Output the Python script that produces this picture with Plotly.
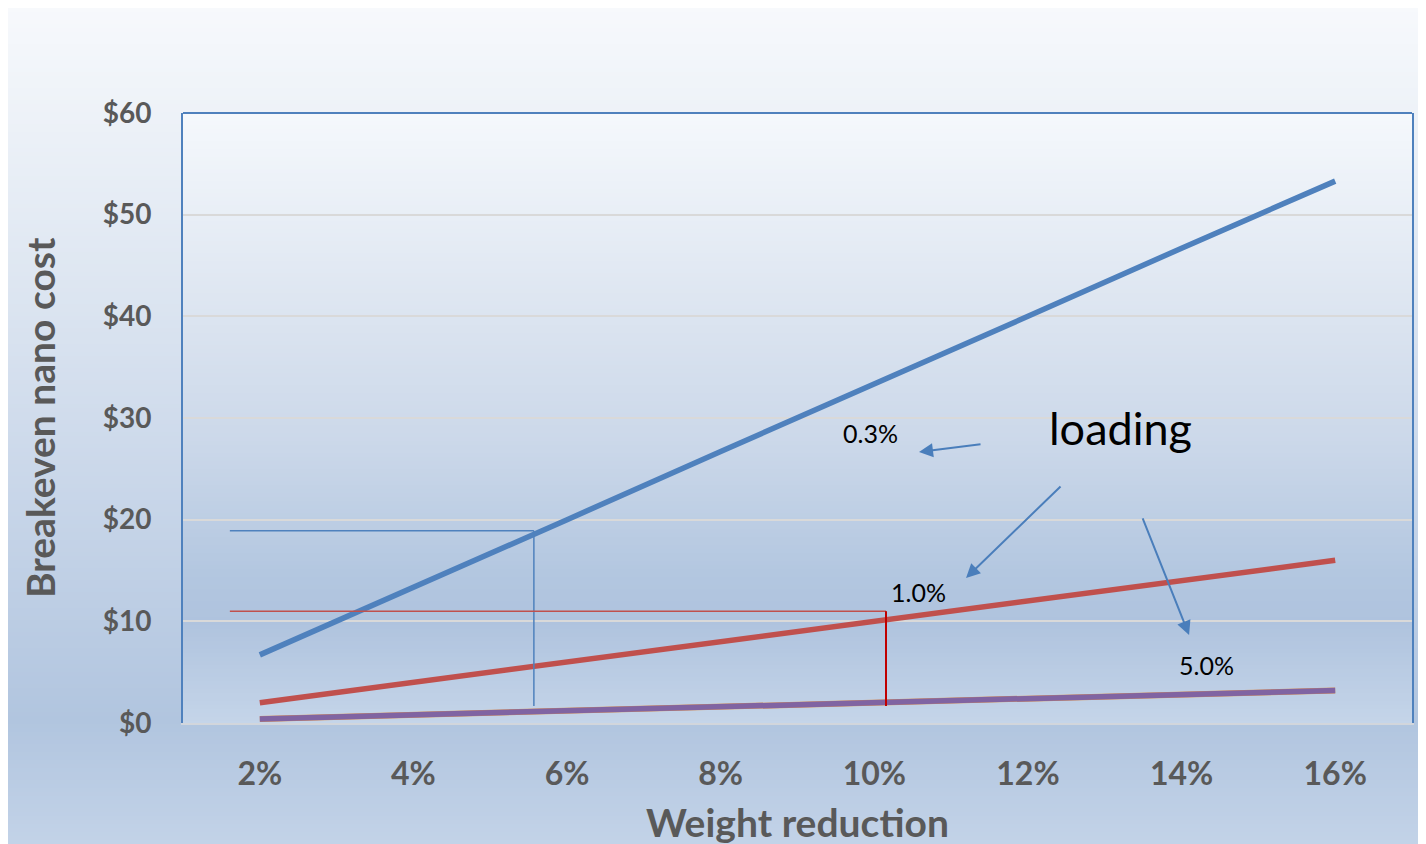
import plotly.graph_objects as go

# ---------------- data ----------------
weight_labels = ["2%", "4%", "6%", "8%", "10%", "12%", "14%", "16%"]
loading_03 = [6.7, 13.3, 20.0, 26.7, 33.3, 40.0, 46.7, 53.3]
loading_10 = [2.0, 4.0, 6.0, 8.0, 10.0, 12.0, 14.0, 16.0]
loading_50 = [0.4, 0.8, 1.2, 1.6, 2.0, 2.4, 2.8, 3.2]
loading_50b = [0.4, 0.8, 1.2, 1.6, 2.0, 2.4, 2.8, 3.2]
y_ticks = [0, 10, 20, 30, 40, 50, 60]
y_tick_labels = ["$0", "$10", "$20", "$30", "$40", "$50", "$60"]

# reference guide lines (category-index x, value y)
blue_ref = dict(x0=-0.195, x1=1.784, y=18.9, ybot=1.67)
red_ref = dict(x0=-0.195, x1=4.076, y=11.0, ybot=1.67)

FONT = "Lato, 'Open Sans', sans-serif"
GREY = "#595959"

xs = list(range(len(weight_labels)))

fig = go.Figure()
fig.add_trace(go.Scatter(x=xs, y=loading_50b, mode="lines",
                         line=dict(color="#E0914A", width=6), hoverinfo="skip"))
fig.add_trace(go.Scatter(x=xs, y=loading_50, mode="lines",
                         line=dict(color="#8064A2", width=5.5), name="5.0%"))
fig.add_trace(go.Scatter(x=xs, y=loading_10, mode="lines",
                         line=dict(color="#C0504D", width=5.5), name="1.0%"))
fig.add_trace(go.Scatter(x=xs, y=loading_03, mode="lines",
                         line=dict(color="#4F81BD", width=5.5), name="0.3%"))

# ---------------- geometry (screen pixels; page has an 8px body margin) ----------------
OFF = 8
W, H = 1426 - OFF, 844 - OFF
L, R, T, B = 183, 1412, 113, 723          # plot area in screen px
pw, ph = R - L, B - T


def hex2rgb(h):
    h = h.lstrip("#")
    return [int(h[i:i + 2], 16) for i in (0, 2, 4)]


def interp(stops, f):
    for (f0, c0), (f1, c1) in zip(stops, stops[1:]):
        if f0 <= f <= f1:
            t = (f - f0) / (f1 - f0) if f1 > f0 else 0
            a, b = hex2rgb(c0), hex2rgb(c1)
            return "rgb(%d,%d,%d)" % tuple(round(a[i] + (b[i] - a[i]) * t) for i in range(3))
    return stops[-1][1]


def px2px(x):
    return (x - L) / pw


def py2py(y):
    return (B - y) / ph


outer_stops = [(0, "#F7F9FC"), (0.25, "#E4EBF4"), (0.55, "#CBD8EA"),
               (0.85, "#B1C5DF"), (1.0, "#C3D3E8")]
inner_stops = [(0, "#F5F8FC"), (0.3, "#DEE6F1"), (0.55, "#CAD7E9"),
               (0.75, "#B3C7E0"), (0.83, "#AFC3DE"), (1.0, "#C5D5E9")]

shapes = []
step = 4
y = 4
while y < 844:
    y2 = min(y + step + 1, 844)
    f = (y - 4) / (844 - 4)
    shapes.append(dict(type="rect", xref="paper", yref="paper", layer="below",
                       x0=px2px(0), x1=px2px(1430), y0=py2py(y2), y1=py2py(y),
                       fillcolor=interp(outer_stops, f), line=dict(width=0)))
    y += step
y = T
while y < B:
    y2 = min(y + step + 1, B)
    f = (y - T) / (B - T)
    shapes.append(dict(type="rect", xref="paper", yref="paper", layer="below",
                       x0=0, x1=1, y0=py2py(y2), y1=py2py(y),
                       fillcolor=interp(inner_stops, f), line=dict(width=0)))
    y += step

# top border of plot area
shapes.append(dict(type="line", xref="paper", yref="paper", x0=0, x1=1, y0=1, y1=1,
                   line=dict(color="#4F81BD", width=2)))

# reference guide lines
shapes += [
    dict(type="line", xref="x", yref="y", x0=blue_ref["x0"], x1=blue_ref["x1"],
         y0=blue_ref["y"], y1=blue_ref["y"], line=dict(color="#4F81BD", width=1.5)),
    dict(type="line", xref="x", yref="y", x0=blue_ref["x1"], x1=blue_ref["x1"],
         y0=blue_ref["y"], y1=blue_ref["ybot"], line=dict(color="#4F81BD", width=1.5)),
    dict(type="line", xref="x", yref="y", x0=red_ref["x0"], x1=red_ref["x1"],
         y0=red_ref["y"], y1=red_ref["y"], line=dict(color="#C0504D", width=1.5)),
    dict(type="line", xref="x", yref="y", x0=red_ref["x1"], x1=red_ref["x1"],
         y0=red_ref["y"], y1=red_ref["ybot"], line=dict(color="#C00000", width=2)),
]

arrow_col = "#4A7EBB"
annotations = [
    dict(x=3.972, y=28.5, text="0.3%", showarrow=False,
         font=dict(size=25, color="black", family=FONT)),
    dict(x=5.60, y=29.0, text="loading", showarrow=False,
         font=dict(size=45, color="black", family=FONT)),
    dict(x=4.285, y=12.9, text="1.0%", showarrow=False,
         font=dict(size=25, color="black", family=FONT)),
    dict(x=6.16, y=5.7, text="5.0%", showarrow=False,
         font=dict(size=25, color="black", family=FONT)),
    dict(x=4.291, y=26.65, ax=63, ay=-8, text="", showarrow=True,
         arrowhead=2, arrowsize=1.4, arrowwidth=2, arrowcolor=arrow_col),
    dict(x=4.597, y=14.26, ax=96, ay=-93, text="", showarrow=True,
         arrowhead=2, arrowsize=1.4, arrowwidth=2, arrowcolor=arrow_col),
    dict(x=6.049, y=8.66, ax=-47, ay=-118, text="", showarrow=True,
         arrowhead=2, arrowsize=1.4, arrowwidth=2, arrowcolor=arrow_col),
    dict(xref="paper", yref="paper", x=0.5, y=py2py(822), xanchor="center",
         yanchor="middle", text="Weight reduction", showarrow=False,
         font=dict(size=39, color=GREY, family=FONT, weight="bold")),
    dict(xref="paper", yref="paper", x=px2px(40), y=0.5, xanchor="center",
         yanchor="middle", text="Breakeven nano cost", textangle=-90, showarrow=False,
         font=dict(size=39, color=GREY, family=FONT, weight="bold")),
]

fig.update_layout(
    width=W, height=H,
    margin=dict(l=L - OFF, r=W - (R - OFF), t=T - OFF, b=H - (B - OFF)),
    paper_bgcolor="white",
    plot_bgcolor="rgba(0,0,0,0)",
    showlegend=False,
    shapes=shapes,
    annotations=annotations,
    font=dict(family=FONT, color=GREY),
    xaxis=dict(range=[-0.5, 7.5], tickvals=xs, ticktext=weight_labels,
               showgrid=False, zeroline=False, showline=True,
               linecolor="#D2D6DC", linewidth=2, ticks="",
               tickfont=dict(size=32, color=GREY, family=FONT, weight="bold"),
               ticklabelstandoff=22),
    yaxis=dict(range=[0, 60], tickvals=y_ticks, ticktext=y_tick_labels,
               showgrid=True, gridcolor="#D9D9D9", gridwidth=1.5,
               zeroline=False, showline=True, mirror=True,
               linecolor="#4F81BD", linewidth=2, ticks="",
               tickfont=dict(size=28, color=GREY, family=FONT, weight="bold"),
               ticklabelstandoff=24),
)

fig.write_html("out.html")
